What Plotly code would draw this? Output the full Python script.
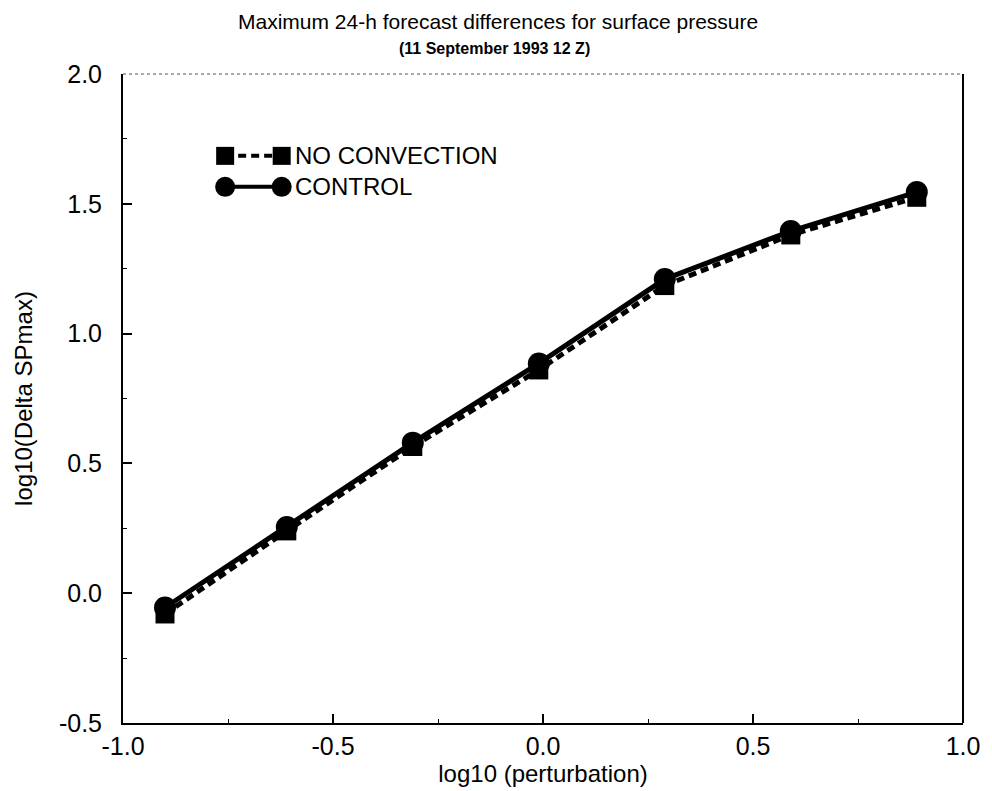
import plotly.graph_objects as go

# Data
log_perturbation = [-0.90, -0.61, -0.31, -0.01, 0.29, 0.59, 0.89]
control = [-0.055, 0.255, 0.580, 0.885, 1.210, 1.395, 1.545]
no_convection = [-0.080, 0.240, 0.565, 0.860, 1.185, 1.380, 1.525]

x_ticks = [-1.0, -0.5, 0.0, 0.5, 1.0]
x_tick_labels = ["-1.0", "-0.5", "0.0", "0.5", "1.0"]
y_ticks = [-0.5, 0.0, 0.5, 1.0, 1.5, 2.0]
y_tick_labels = ["-0.5", "0.0", "0.5", "1.0", "1.5", "2.0"]
x_minor = [-0.75, -0.25, 0.25, 0.75]
y_minor = [-0.25, 0.25, 0.75, 1.25, 1.75]

series_names = ["NO CONVECTION", "CONTROL"]

FONT = "Liberation Sans, Arial, Helvetica, sans-serif"
BLACK = "#000000"

# plot area in pixels
L, R, T, B = 123, 970, 74, 724
W, H = R - L, B - T

def px_x(p):
    return (p - L) / W

def px_y(p):
    return (B - p) / H

fig = go.Figure()

fig.add_trace(go.Scatter(
    x=log_perturbation, y=no_convection, mode="lines+markers",
    name=series_names[0],
    line=dict(color=BLACK, width=5, dash="8px,5px"),
    marker=dict(symbol="square", size=19, color=BLACK),
    showlegend=False,
))
fig.add_trace(go.Scatter(
    x=log_perturbation, y=control, mode="lines+markers",
    name=series_names[1],
    line=dict(color=BLACK, width=5),
    marker=dict(symbol="circle", size=22, color=BLACK),
    showlegend=False,
))

# Legend keys drawn on a hidden overlay axis (fractions of plot area)
leg_x = [px_x(226), px_x(283)]
leg_rows = [px_y(156), px_y(187)]
fig.add_trace(go.Scatter(
    x=leg_x, y=[leg_rows[0]] * 2, xaxis="x2", yaxis="y2", mode="lines+markers",
    line=dict(color=BLACK, width=4, dash="8px,5px"),
    marker=dict(symbol="square", size=18, color=BLACK),
    showlegend=False, hoverinfo="skip",
))
fig.add_trace(go.Scatter(
    x=leg_x, y=[leg_rows[1]] * 2, xaxis="x2", yaxis="y2", mode="lines+markers",
    line=dict(color=BLACK, width=4),
    marker=dict(symbol="circle", size=20, color=BLACK),
    showlegend=False, hoverinfo="skip",
))
# empty trace to render the minor-tick overlay axes
fig.add_trace(go.Scatter(x=[None], y=[None], xaxis="x3", yaxis="y3",
                         showlegend=False, hoverinfo="skip"))

annotations = [
    dict(text="Maximum 24-h forecast differences for surface pressure",
         x=px_x(0.5 * (243 + 760)), y=px_y(21), xref="paper", yref="paper",
         xanchor="center", yanchor="middle", showarrow=False,
         font=dict(family=FONT, size=21, color=BLACK)),
    dict(text="<b>(11 September 1993 12 Z)</b>",
         x=px_x(0.5 * (401 + 594)), y=px_y(48), xref="paper", yref="paper",
         xanchor="center", yanchor="middle", showarrow=False,
         font=dict(family=FONT, size=16, color=BLACK)),
]
for name, yr in zip(series_names, leg_rows):
    annotations.append(dict(
        text=name, x=px_x(294), y=yr, xref="paper", yref="paper",
        xanchor="left", yanchor="middle", showarrow=False,
        font=dict(family=FONT, size=24, color=BLACK)))

fig.update_layout(
    width=992, height=791,
    margin=dict(l=L, r=992 - R, t=T, b=791 - B),
    paper_bgcolor="white", plot_bgcolor="white",
    font=dict(family=FONT, color=BLACK),
    annotations=annotations,
    xaxis=dict(
        range=[-1.0, 1.0], tickvals=x_ticks, ticktext=x_tick_labels,
        ticks="inside", ticklen=9, tickwidth=1.5, tickcolor=BLACK,
        showgrid=False, zeroline=False,
        showline=True, linecolor=BLACK, linewidth=2, mirror=False,
        tickfont=dict(family=FONT, size=25, color=BLACK),
        ticklabelstandoff=0,
        title=dict(text="log10 (perturbation)", standoff=2,
                   font=dict(family=FONT, size=24, color=BLACK)),
    ),
    yaxis=dict(
        range=[-0.5, 2.0], tickvals=y_ticks, ticktext=y_tick_labels,
        ticks="inside", ticklen=9, tickwidth=1.5, tickcolor=BLACK,
        showgrid=False, zeroline=False,
        showline=True, linecolor=BLACK, linewidth=2, mirror=False,
        tickfont=dict(family=FONT, size=25, color=BLACK),
        ticklabelstandoff=14,
        title=dict(text="log10(Delta SPmax)", standoff=20,
                   font=dict(family=FONT, size=24, color=BLACK)),
    ),
    xaxis2=dict(range=[0, 1], overlaying="x", visible=False, fixedrange=True),
    yaxis2=dict(range=[0, 1], overlaying="y", visible=False, fixedrange=True),
    xaxis3=dict(range=[-1.0, 1.0], overlaying="x", anchor="y3", tickvals=x_minor,
                showticklabels=False, ticks="inside", ticklen=4, tickwidth=1,
                tickcolor=BLACK, showgrid=False, zeroline=False, showline=False,
                fixedrange=True),
    yaxis3=dict(range=[-0.5, 2.0], overlaying="y", anchor="x3", tickvals=y_minor,
                showticklabels=False, ticks="inside", ticklen=4, tickwidth=1,
                tickcolor=BLACK, showgrid=False, zeroline=False, showline=False,
                fixedrange=True),
    shapes=[
        dict(type="line", xref="paper", yref="paper", x0=0, x1=1, y0=1, y1=1,
             line=dict(color="#555555", width=1, dash="dot")),
        dict(type="line", xref="paper", yref="paper", x0=1, x1=1, y0=0, y1=1,
             line=dict(color=BLACK, width=2)),
    ],
)

fig.write_html("out.html")
